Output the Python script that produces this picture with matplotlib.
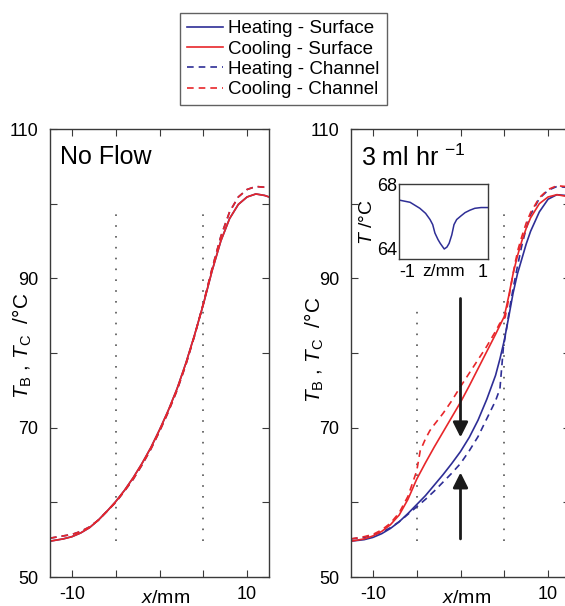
import matplotlib
matplotlib.use("Agg")
import matplotlib.pyplot as plt
import numpy as np

plt.rcParams['font.family'] = ['Liberation Sans', 'DejaVu Sans']
plt.rcParams['mathtext.fontset'] = 'custom'
plt.rcParams['mathtext.rm'] = 'Liberation Sans'
plt.rcParams['mathtext.it'] = 'Liberation Sans:italic'
plt.rcParams['mathtext.bf'] = 'Liberation Sans:bold'
plt.rcParams['axes.unicode_minus'] = False

BLUE = '#2e2e96'
RED = '#e8262a'
SPINE = '#3a3a3a'

# ---- left panel: no flow (heating and cooling coincide) ----
x_nf = [-12.5, -11, -10, -9, -8, -7, -6, -5, -4, -3, -2, -1, 0, 1, 2, 3, 4, 5, 6, 7, 8, 9, 10, 11, 12, 12.5]
nf_surface = [54.8, 55.1, 55.4, 55.9, 56.6, 57.6, 58.8, 60.1, 61.6, 63.3, 65.2, 67.3, 69.7, 72.3, 75.2,
              78.6, 82.4, 86.5, 91.0, 95.0, 98.0, 99.9, 100.9, 101.3, 101.1, 100.9]
nf_channel = [55.2, 55.5, 55.7, 56.1, 56.7, 57.6, 58.8, 60.0, 61.5, 63.1, 65.0, 67.1, 69.5, 72.1, 75.0,
              78.4, 82.3, 86.6, 91.3, 95.6, 98.9, 100.9, 101.9, 102.3, 102.2, 102.0]

# ---- right panel: 3 ml/hr ----
x_hs = [-12.5, -11, -10, -9, -8, -7, -6, -5, -4, -3, -2, -1, 0, 1, 2, 3, 4, 4.5, 5, 5.5, 6, 6.5, 7,
        7.5, 8, 9, 10, 11, 12, 12.5]
heat_surface = [54.8, 55.0, 55.3, 55.8, 56.5, 57.4, 58.5, 59.7, 60.9, 62.3, 63.7, 65.2, 66.8, 68.7,
                71.0, 73.8, 77.0, 79.2, 81.7, 84.8, 88.0, 90.6, 92.6, 94.6, 96.3, 98.9, 100.6, 101.2,
                101.1, 100.9]
x_hc = [-12.5, -11, -10, -9, -8, -7, -6, -5, -4, -3, -2, -1, 0, 1, 2, 3, 4, 4.5, 4.9, 5.3, 5.6, 6,
        6.5, 7, 7.5, 8, 9, 10, 11, 12, 12.5]
heat_channel = [55.1, 55.3, 55.6, 56.0, 56.6, 57.4, 58.4, 59.4, 60.4, 61.5, 62.7, 63.9, 65.2, 66.9,
                68.8, 71.2, 73.6, 75.2, 80.8, 83.6, 85.9, 88.6, 91.6, 94.4, 96.7, 98.5, 100.7, 101.8,
                102.3, 102.2, 102.0]
x_cs = [-12.5, -11, -10, -9, -8, -7, -6, -5, -4, -3, -2, -1, 0, 1, 2, 3, 4, 5, 5.5, 6, 6.5, 7,
        7.5, 8, 9, 10, 11, 12, 12.5]
cool_surface = [54.8, 55.1, 55.5, 56.1, 57.0, 58.3, 60.4, 63.1, 65.3, 67.4, 69.4, 71.4, 73.4, 75.6,
                77.9, 80.2, 82.5, 84.9, 87.6, 90.6, 93.0, 95.0, 96.7, 98.1, 100.0, 100.9, 101.2,
                101.0, 100.8]
x_cc = [-12.5, -11, -10, -9, -8, -7, -6, -5, -4.6, -4, -3.5, -3, -2, -1, 0, 1, 2, 3, 4, 4.5, 4.8,
        5.1, 5.4, 5.8, 6.2, 6.6, 7, 7.5, 8, 9, 10, 11, 12, 12.5]
cool_channel = [55.1, 55.4, 55.7, 56.3, 57.2, 58.6, 60.8, 64.2, 66.9, 68.5, 69.6, 70.4, 71.9, 73.6,
                75.5, 77.3, 79.1, 80.9, 82.9, 84.0, 84.2, 84.8, 86.6, 89.3, 91.9, 94.0, 95.6, 97.4,
                98.8, 100.8, 101.9, 102.4, 102.3, 102.0]

# ---- inset: cross-channel profile ----
z_in = [-1.0, -0.75, -0.53, -0.40, -0.30, -0.24, -0.19, -0.12, -0.07, 0.02, 0.08, 0.13, 0.19, 0.24,
        0.30, 0.40, 0.49, 0.60, 0.71, 0.85, 1.0]
t_in = [67.16, 67.04, 66.72, 66.45, 66.12, 65.85, 65.4, 65.05, 64.85, 64.55, 64.65, 64.85, 65.3,
        65.85, 66.12, 66.32, 66.49, 66.62, 66.72, 66.76, 66.76]

boundaries = [-5, 5]
dot_top_left = [98.7, 98.7]
dot_top_right = [85.7, 98.7]
dot_bottom = 54.8

arrow_x = 0
arrow_down = (87.3, 68.7)
arrow_up = (55.1, 64.0)

legend_labels = ['Heating - Surface', 'Cooling - Surface', 'Heating - Channel', 'Cooling - Channel']

fig = plt.figure(figsize=(5.65, 6.06), dpi=100)
ax1 = fig.add_axes([50 / 565, 29 / 606, 219 / 565, 448 / 606])
ax2 = fig.add_axes([351 / 565, 29 / 606, 219 / 565, 448 / 606])


def style_main(ax, lab_x, lab_y):
    ax.set_xlim(-12.5, 12.5)
    ax.set_ylim(50, 110)
    ax.set_xticks([-10, -5, 0, 5, 10])
    ax.set_xticklabels(['-10', '', '', '', '10'])
    ax.set_yticks([50, 60, 70, 80, 90, 100, 110])
    ax.set_yticklabels(['50', '', '70', '', '90', '', '110'])
    ax.tick_params(direction='in', length=5, width=0.8, color=SPINE, labelsize=13,
                   top=True, right=True)
    ax.tick_params(axis='x', pad=6.5)
    ax.tick_params(axis='y', pad=8.5)
    for s in ax.spines.values():
        s.set_color(SPINE)
        s.set_linewidth(1.0)
    ax.set_xlabel(r'$x$/mm', fontsize=14, va='baseline')
    ax.xaxis.set_label_coords(0.53, -0.058)
    ax.set_ylabel(r'$\mathit{T}_\mathrm{B}$ , $\mathit{T}_\mathrm{C}$  /°C', fontsize=15)
    ax.yaxis.set_label_coords(lab_x, lab_y)


# left panel
ax1.vlines(boundaries, dot_bottom, dot_top_left, colors='#555555', linestyles=(0, (1, 5.5)), lw=1.2)
ax1.plot(x_nf, nf_surface, color=BLUE, lw=1.2)
ax1.plot(x_nf, nf_channel, color=BLUE, lw=1.2, ls=(0, (4, 3)))
ax1.plot(x_nf, nf_surface, color=RED, lw=1.2)
ax1.plot(x_nf, nf_channel, color=RED, lw=1.2, ls=(0, (4, 3)))
style_main(ax1, -0.075, 0.515)
ax1.text(0.045, 0.965, 'No Flow', transform=ax1.transAxes, fontsize=18, va='top', ha='left')

# right panel
for bx, top in zip(boundaries, dot_top_right):
    ax2.vlines(bx, dot_bottom, top, colors='#555555', linestyles=(0, (1, 5.5)), lw=1.2)
h1, = ax2.plot(x_hs, heat_surface, color=BLUE, lw=1.2)
h3, = ax2.plot(x_hc, heat_channel, color=BLUE, lw=1.2, ls=(0, (4, 3)))
h2, = ax2.plot(x_cs, cool_surface, color=RED, lw=1.2)
h4, = ax2.plot(x_cc, cool_channel, color=RED, lw=1.2, ls=(0, (4, 3)))
arrow_style = dict(arrowstyle='-|>,head_length=0.6,head_width=0.3', mutation_scale=15,
                   lw=2, color='#1a1a1a', shrinkA=0, shrinkB=0)
ax2.annotate('', xy=(arrow_x, arrow_down[1]), xytext=(arrow_x, arrow_down[0]), arrowprops=arrow_style)
ax2.annotate('', xy=(arrow_x, arrow_up[1]), xytext=(arrow_x, arrow_up[0]), arrowprops=arrow_style)
style_main(ax2, -0.115, 0.507)
ax2.text(0.045, 0.965, r'3 ml hr $^{-1}$', transform=ax2.transAxes, fontsize=18, va='top', ha='left')

# inset
axi = fig.add_axes([399 / 565, (606 - 259.3) / 606, 88.7 / 565, 75 / 606])
axi.plot(z_in, t_in, color=BLUE, lw=1.1)
axi.set_xlim(-1, 1)
axi.set_ylim(64, 68)
axi.set_xticks([-1, 1])
axi.set_yticks([64, 68])
axi.tick_params(length=0, labelsize=13)
axi.tick_params(axis='y', pad=1.5)
axi.tick_params(axis='x', pad=3.5)
xl = axi.get_xticklabels()
xl[0].set_ha('left')
xl[1].set_ha('right')
yl = axi.get_yticklabels()
yl[0].set_va('bottom')
for s in axi.spines.values():
    s.set_color(SPINE)
    s.set_linewidth(1.0)
axi.set_xlabel('z/mm', fontsize=12.5, va='top')
axi.xaxis.set_label_coords(0.5, -0.065)
axi.set_ylabel(r'$\mathit{T}$ /°C', fontsize=14)
axi.yaxis.set_label_coords(-0.26, 0.5)

leg = fig.legend([h1, h2, h3, h4], legend_labels, loc='upper left',
                 bbox_to_anchor=(180 / 565, 1 - 13 / 606), borderaxespad=0, fontsize=13.5,
                 frameon=True, fancybox=False, edgecolor=SPINE, borderpad=0.38,
                 labelspacing=0.17, handlelength=1.9, handletextpad=0.3)
leg.get_frame().set_linewidth(1.0)

fig.savefig('out.png', dpi=100)
